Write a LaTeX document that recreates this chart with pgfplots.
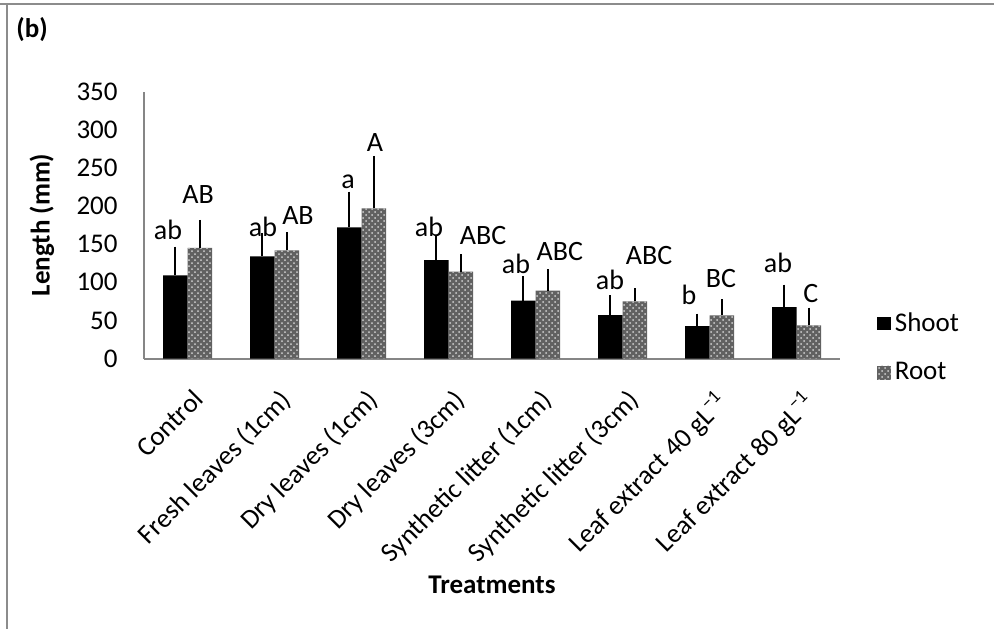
\documentclass[border=0pt]{standalone}
\usepackage{fontspec}
\setmainfont{Carlito}
\usepackage{pgfplots}
\usepackage{pgfplotstable}
\pgfplotsset{compat=1.18}
\usetikzlibrary{patterns}
\definecolor{framegray}{RGB}{140,140,140}
\definecolor{axgray}{RGB}{134,134,134}
\pgfplotstableread{
x y e
0 109 30
1 134 23
2 172 39
3 129 25
4 76 24
5 57 18
6 42.5 8.5
7 67.5 21.5
}\shoot
\pgfplotstableread{
x y e
0 145 29
1 142 16
2 197 61
3 114 15
4 89 20
5 75 9
6 56.6 13.4
7 43.4 15.4
}\root
\begin{document}
\begin{tikzpicture}[x=0.5pt,y=0.5pt]
\path[use as bounding box] (0,0) rectangle (994,629);
\draw[framegray,line width=1pt] (0,625) -- (994,625);
\draw[framegray,line width=1pt] (7,625) -- (7,0);
\node[font=\fontsize{13.5}{16}\selectfont\bfseries] at (32,599) {(b)};
\node[font=\fontsize{13.5}{16}\selectfont\bfseries,rotate=90] at (42,404) {Length (mm)};
\node[font=\fontsize{13.5}{16}\selectfont\bfseries] at (492,44) {Treatments};
\begin{axis}[
  at={(72pt,135.25pt)}, anchor=south west,
  scale only axis, width=348pt, height=133.4pt,
  xmin=-0.5, xmax=7.5, ymin=0, ymax=350,
  ytick={0,50,...,350},
  xtick={0,...,7},
  xticklabels={Control,Fresh leaves (1cm),Dry leaves (1cm),Dry leaves (3cm),Synthetic litter (1cm),Synthetic litter (3cm),Leaf extract 40 gL\textsuperscript{−1},Leaf extract 80 gL\textsuperscript{−1}},
  axis x line=bottom, axis y line=left,
  axis line style={axgray, line width=1pt, -},
  major tick length=0pt,
  tick label style={font=\fontsize{13.5}{16}\selectfont},
  /pgf/number format/assume math mode=true,
  yticklabel style={anchor=east, inner sep=0pt, xshift=-13pt},
  xticklabel style={xshift=2pt, yshift=-14.5pt, rotate=45, anchor=north east, inner sep=0pt},
  ybar=0pt, bar width=12.25pt,
  clip=false,
  legend style={at={(1.053,0.04)}, anchor=west, draw=none, fill=none,
    font=\fontsize{13.5}{16}\selectfont, row sep=10pt, inner sep=0pt},
  legend cell align=left,
  legend image code/.code={\draw[#1,draw=none] (0pt,-3.4pt) rectangle (6.8pt,3.4pt);},
]
\addplot[fill=black, draw=none,
  error bars/.cd, y dir=plus, y explicit,
  error bar style={black, line width=0.9pt},
  error mark options={black, line width=0.9pt, mark size=3pt}]
  table[x=x, y=y, y error=e]{\shoot};
\addlegendentry{Shoot}
\addplot[fill=black!62, draw=none, postaction={pattern=crosshatch dots, pattern color=black!18},
  error bars/.cd, y dir=plus, y explicit,
  error bar style={black, line width=0.9pt},
  error mark options={black, line width=0.9pt, mark size=3pt}]
  table[x=x, y=y, y error=e]{\root};
\addlegendentry{Root}
\begin{scope}[font=\fontsize{14}{16}\selectfont]
\node at (axis cs:-0.224,168.6) {ab};
\node at (axis cs:0.121,214.5) {AB};
\node at (axis cs:0.868,172.5) {ab};
\node at (axis cs:1.27,188.2) {AB};
\node at (axis cs:1.845,231.5) {a};
\node at (axis cs:2.155,284) {A};
\node at (axis cs:2.776,172.5) {ab};
\node at (axis cs:3.397,162) {ABC};
\node at (axis cs:3.776,124.6) {ab};
\node at (axis cs:4.28,140.3) {ABC};
\node at (axis cs:4.856,103.6) {ab};
\node at (axis cs:5.305,135) {ABC};
\node at (axis cs:5.764,83.9) {b};
\node at (axis cs:6.132,104.3) {BC};
\node at (axis cs:6.787,125.3) {ab};
\node at (axis cs:7.166,85.9) {C};
\end{scope}
\end{axis}
\end{tikzpicture}
\end{document}
